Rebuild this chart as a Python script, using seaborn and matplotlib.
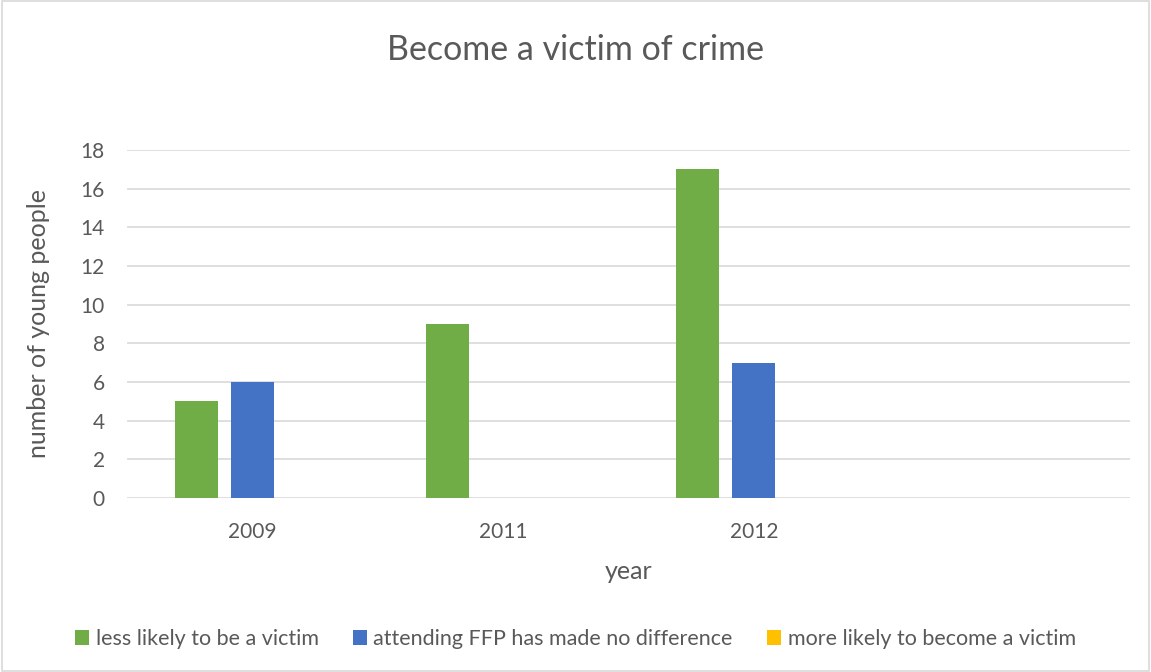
import matplotlib
matplotlib.use("Agg")
import matplotlib.pyplot as plt
import seaborn as sns
import pandas as pd
from matplotlib.patches import Rectangle

years = ["2009", "2011", "2012", " "]
series = ["less likely to be a victim",
          "attending FFP has made no difference",
          "more likely to become a victim"]
less_likely = [5, 9, 17, 0]
no_difference = [6, 0, 7, 0]
more_likely = [0, 0, 0, 0]
colors = ["#70AD47", "#4472C4", "#FFC000"]

rows = []
for s, vals in zip(series, [less_likely, no_difference, more_likely]):
    for y, v in zip(years, vals):
        rows.append({"year": y, "value": v, "series": s})
df = pd.DataFrame(rows)

sns.set_theme(style="white")
plt.rcParams['font.family'] = ['Lato', 'DejaVu Sans']
txt = "#595959"

fig = plt.figure(figsize=(11.51, 6.72), dpi=100)
ax = fig.add_axes([127/1151, 1-498/672, (1130-127)/1151, (498-150)/672])

sns.barplot(data=df, x="year", y="value", hue="series", order=years,
            hue_order=series, palette=colors, width=0.67, gap=0.23,
            ax=ax, legend=True, saturation=1, linewidth=0)

ax.set_ylim(0, 18)
ax.set_xlim(-0.5, 3.5)
ax.set_yticks(range(0, 19, 2))
ax.yaxis.grid(True, color="#d9d9d9", linewidth=1.2)
ax.set_axisbelow(True)
for sp in ax.spines.values():
    sp.set_visible(False)
ax.tick_params(axis="both", length=0, labelsize=15, colors=txt)
ax.tick_params(axis="y", pad=16)
ax.tick_params(axis="x", pad=17)
ax.set_xlabel("year", fontsize=18, color=txt, labelpad=13)
ax.set_ylabel("number of young people", fontsize=18, color=txt, labelpad=22)

handles, labels = ax.get_legend_handles_labels()
ax.get_legend().remove()
fig.legend(handles, labels, loc="center", bbox_to_anchor=(0.5, 1-639/672),
           ncol=3, frameon=False, fontsize=15.5, handlelength=0.65,
           handleheight=0.65, handletextpad=0.3, columnspacing=1.6,
           labelcolor=txt)

fig.text(0.5, 1-50/672, "Become a victim of crime", ha="center", va="center",
         fontsize=24.5, color=txt)

fig.patches.append(Rectangle((0.002, 0.002), 0.996, 0.996, transform=fig.transFigure,
                             fill=False, edgecolor="#d9d9d9", linewidth=1.2))

fig.savefig("out.png", dpi=100)
